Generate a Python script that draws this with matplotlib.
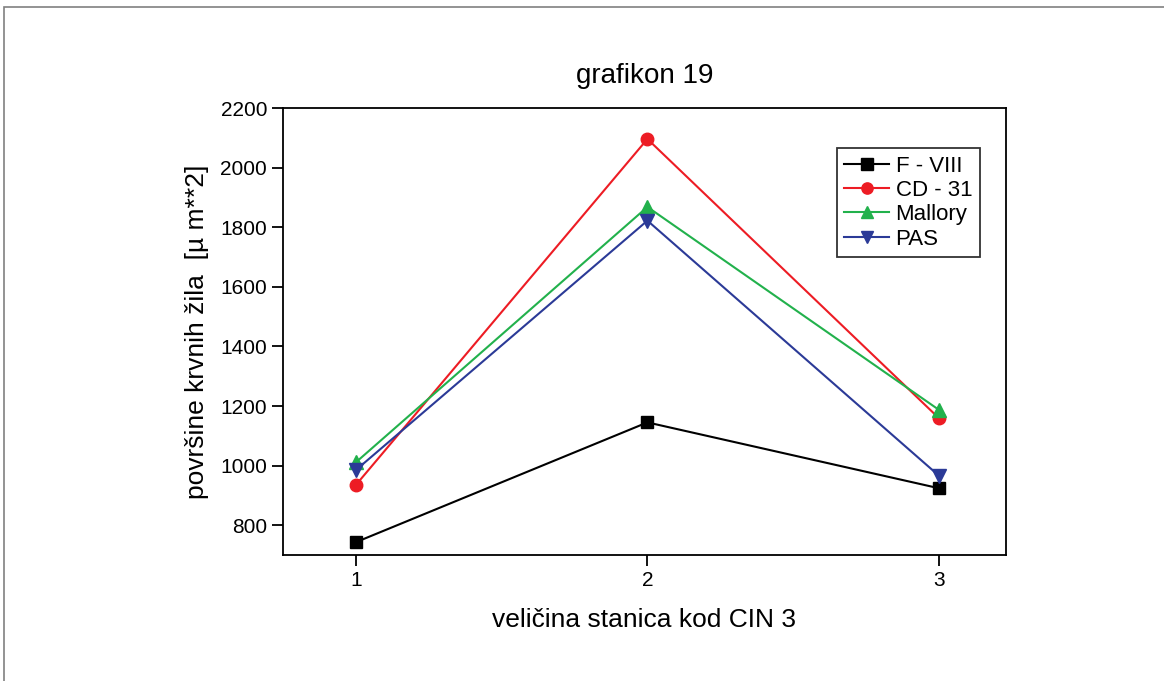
import matplotlib
matplotlib.use("Agg")
import matplotlib.pyplot as plt
from matplotlib.patches import Rectangle

plt.rcParams['font.family'] = ['Liberation Sans', 'DejaVu Sans']

x = [1, 2, 3]
f_viii = [743, 1145, 924]
cd_31 = [935, 2096, 1159]
mallory = [1011, 1868, 1187]
pas = [985, 1822, 966]
series_names = ["F - VIII", "CD - 31", "Mallory", "PAS"]

fig = plt.figure(figsize=(11.64, 6.81), dpi=100)
fig.patches.append(Rectangle((4/1164, -0.1), 1.2, 1 - 7/681 + 0.1, transform=fig.transFigure,
                             fill=False, edgecolor='#808080', linewidth=1.2, zorder=0))
ax = fig.add_axes([283/1164, 1 - 555/681, (1006 - 283)/1164, (555 - 108)/681])

ax.plot(x, f_viii, color='black', marker='s', markersize=9, linewidth=1.5, label=series_names[0])
ax.plot(x, cd_31, color='#ED1C24', marker='o', markersize=9, linewidth=1.5, label=series_names[1])
ax.plot(x, mallory, color='#22B14C', marker='^', markersize=10, linewidth=1.5, label=series_names[2])
ax.plot(x, pas, color='#2B3A97', marker='v', markersize=10, linewidth=1.5, label=series_names[3])

ax.set_xlim(0.75, 3.23)
ax.set_ylim(700, 2200)
ax.set_xticks([1, 2, 3])
ax.set_yticks(range(800, 2201, 200))
ax.tick_params(direction='out', length=8, width=1.3, labelsize=15)
for s in ax.spines.values():
    s.set_linewidth(1.3)

ax.set_title("grafikon 19", fontsize=20, pad=18)
ax.set_xlabel("veličina stanica kod CIN 3", fontsize=19, labelpad=13)
ax.set_ylabel("površine krvnih žila  [µ m**2]", fontsize=19, labelpad=8)

leg = ax.legend(loc='upper right', bbox_to_anchor=(0.964, 0.911), borderaxespad=0,
                fontsize=16, frameon=True,
                fancybox=False, edgecolor='black', handlelength=2.0, handletextpad=0.3,
                borderpad=0.35, labelspacing=0.15, markerscale=0.9)
leg.get_frame().set_linewidth(1.3)

fig.savefig("out.png", dpi=100)
